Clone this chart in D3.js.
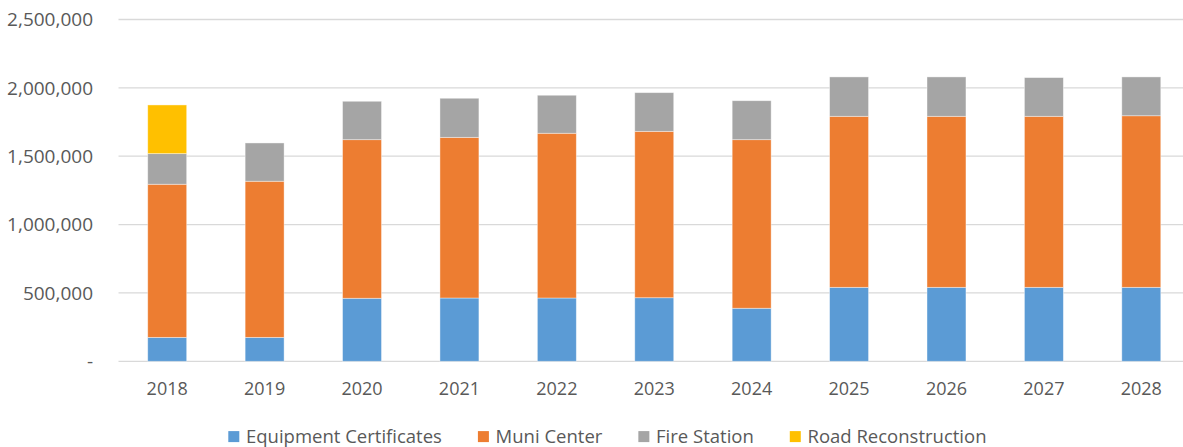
<!DOCTYPE html>
<html>
<head>
<meta charset="utf-8">
<script src="https://cdn.jsdelivr.net/npm/d3@7"></script>
<style>
  body { margin: 0; background: #fff; }
  text { font-family: "Open Sans", sans-serif; fill: #595959; }
</style>
</head>
<body>
<div id="chart"></div>
<script>
// chart data
var years = ["2018","2019","2020","2021","2022","2023","2024","2025","2026","2027","2028"];
var seriesNames = ["Equipment Certificates","Muni Center","Fire Station","Road Reconstruction"];
var equipment = [175000,175000,461000,463000,463000,465000,388000,541000,541000,541000,541000];
var muniCenter = [1120000,1142000,1160000,1175000,1205000,1217000,1233000,1251000,1251000,1251000,1255000];
var fireStation = [224000,280000,281000,286000,278000,283000,285000,288000,288000,283000,284000];
var roadRecon = [356000,0,0,0,0,0,0,0,0,0,0];
var yTicks = [0,500000,1000000,1500000,2000000,2500000];

var colors = ["#5B9BD5","#ED7D31","#A5A5A5","#FFC000"];

var W = 1183, H = 447;
var M = {left: 118.5, right: 1190, top: 19.5, bottom: 361.3};

var rows = years.map(function(y, i) {
  return {year: y, "Equipment Certificates": equipment[i], "Muni Center": muniCenter[i],
          "Fire Station": fireStation[i], "Road Reconstruction": roadRecon[i]};
});

var svg = d3.select("#chart").append("svg")
    .attr("width", W)
    .attr("height", H);

var x = d3.scaleBand()
    .domain(years)
    .range([M.left, M.right])
    .paddingInner(0.6)
    .paddingOuter(0.3);

var y = d3.scaleLinear()
    .domain([0, 2500000])
    .range([M.bottom, M.top]);

// gridlines
svg.append("g").selectAll("line")
  .data(yTicks)
  .enter().append("line")
    .attr("x1", M.left)
    .attr("x2", M.right)
    .attr("y1", function(d){ return y(d); })
    .attr("y2", function(d){ return y(d); })
    .attr("stroke", "#d9d9d9")
    .attr("stroke-width", 1.3);

// y axis labels
var fmt = d3.format(",");
svg.append("g").selectAll("text")
  .data(yTicks)
  .enter().append("text")
    .attr("x", 93)
    .attr("y", function(d){ return y(d); })
    .attr("dy", "0.35em")
    .attr("text-anchor", "end")
    .style("font-size", "19px")
    .text(function(d){ return d === 0 ? "-" : fmt(d); });

// stacked bars
var stack = d3.stack().keys(seriesNames);
var layers = stack(rows);

svg.append("g").selectAll("g")
  .data(layers)
  .enter().append("g")
    .attr("fill", function(d, i){ return colors[i]; })
  .selectAll("rect")
  .data(function(d){ return d.filter(function(p){ return p[1] - p[0] > 0; }); })
  .enter().append("rect")
    .attr("x", function(d){ return x(d.data.year); })
    .attr("width", x.bandwidth())
    .attr("y", function(d){ return y(d[1]); })
    .attr("height", function(d){ return y(d[0]) - y(d[1]); })
    .attr("stroke", "#ffffff")
    .attr("stroke-opacity", 0.5)
    .attr("stroke-width", 0.8);

// x axis labels
svg.append("g").selectAll("text")
  .data(years)
  .enter().append("text")
    .attr("x", function(d){ return x(d) + x.bandwidth()/2; })
    .attr("y", 389)
    .attr("dy", "0.35em")
    .attr("text-anchor", "middle")
    .style("font-size", "18px")
    .text(function(d){ return d; });

// legend - laid out left to right from measured text widths
var legend = svg.append("g").selectAll("g")
  .data(seriesNames)
  .enter().append("g");
legend.append("rect")
    .attr("x", 0)
    .attr("y", -5.5)
    .attr("width", 11)
    .attr("height", 11)
    .attr("fill", function(d, i){ return colors[i]; });
legend.append("text")
    .attr("x", 17.7)
    .attr("y", 0)
    .attr("dy", "0.35em")
    .style("font-size", "18.5px")
    .text(function(d){ return d; });

var lx = 228.3;
legend.each(function(d) {
  var g = d3.select(this);
  g.attr("transform", "translate(" + lx + ",436.6)");
  lx += 17.7 + g.select("text").node().getComputedTextLength() + 36;
});
</script>
</body>
</html>
